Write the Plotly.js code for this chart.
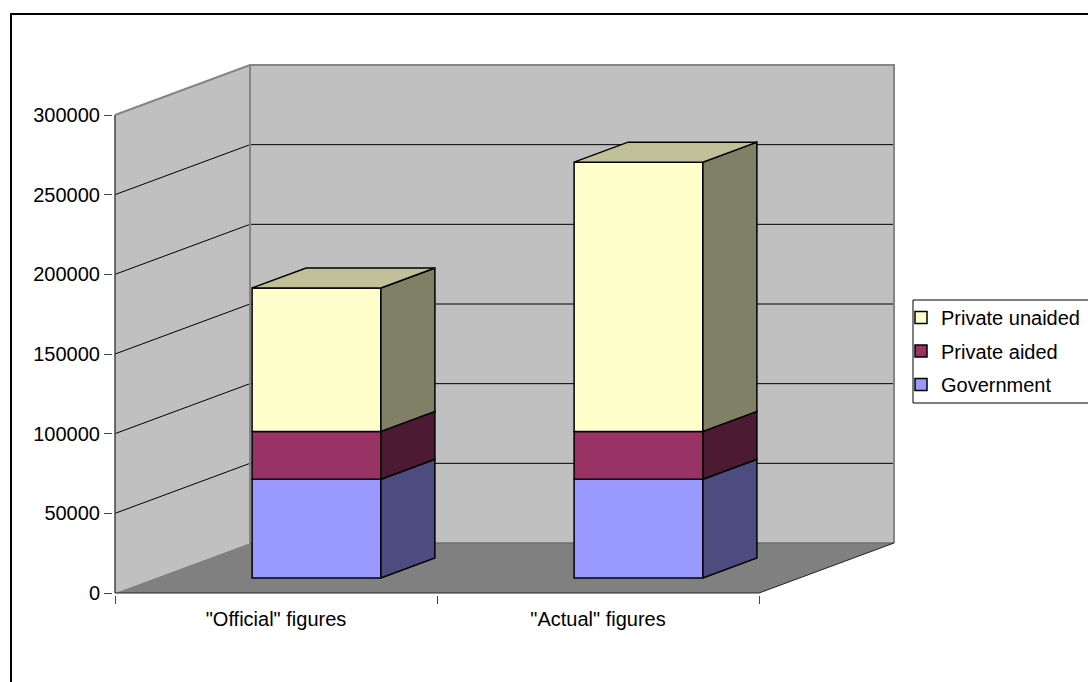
<!DOCTYPE html>
<html>
<head>
<meta charset="utf-8">
<script src="https://cdn.plot.ly/plotly-3.0.1.min.js"></script>
<style>
  html, body { margin: 0; padding: 0; background: #ffffff; }
  #chart { width: 1088px; height: 682px; }
</style>
</head>
<body>
<div id="chart"></div>
<script>
// ---- data ----
const categories = ['"Official" figures', '"Actual" figures'];
const seriesNames = ['Government', 'Private aided', 'Private unaided'];
const government = [62000, 62000];
const privateAided = [30000, 30000];
const privateUnaided = [90000, 169000];
const valueTicks = [0, 50000, 100000, 150000, 200000, 250000, 300000];

// ---- styles ----
const frontColors = ['#9999FF', '#993366', '#FFFFCC'];
const sideColors = ['#4C4C80', '#4D1A33', '#808066'];
const topColor = '#C0C099';
const wallColor = '#C0C0C0';
const floorColor = '#808080';
const edgeGray = '#858585';
const FONT = 'Liberation Sans, Arial, sans-serif';

// ---- oblique projection geometry (pixels) ----
const W = 1088, H = 682;
const ORIGIN = { x: 115, y: 593 };   // front plane: category edge 0, value 0
const CAT_PX = 322;                  // width of one category slot
const VAL_MAX = valueTicks[valueTicks.length - 1];
const VAL_PX = 478;                  // height from 0 to VAL_MAX
const DEPTH_PX = { x: 135, y: 50 };  // shift from front plane to back wall
const PAD = 2;

const kx = CAT_PX;
const ky = VAL_PX / VAL_MAX;
const DX = DEPTH_PX.x / kx;
const DY = DEPTH_PX.y / ky;
const nCat = categories.length;
const xMax = nCat + DX;
const yMax = VAL_MAX + DY;

const plotLeft = ORIGIN.x - PAD;
const plotRight = ORIGIN.x + xMax * kx + PAD;
const plotTop = ORIGIN.y - yMax * ky - PAD;
const plotBottom = ORIGIN.y + PAD;

const paperX = px => (px - plotLeft) / (plotRight - plotLeft);
const paperY = py => (plotBottom - py) / (plotBottom - plotTop);

// a point at category position x, value v and depth d (0 = front, 1 = back wall)
const P = (x, v, d) => [x + d * DX, v + d * DY];

// bar solids
const FRONT_D = 0.3, BACK_D = 0.7, BAR_W = 0.4;

const series = [government, privateAided, privateUnaided];
const traces = [];
const cumBelow = series.map((s, k) =>
  categories.map((_, i) => series.slice(0, k).reduce((a, t) => a + t[i], 0)));

// front faces as bars; the legend lists the top of the stack first
series.forEach((vals, k) => {
  traces.push({
    type: 'bar',
    name: seriesNames[k],
    legendgroup: 'g' + k,
    legendrank: series.length - k,
    x: categories.map((_, i) => P(i + 0.5, 0, FRONT_D)[0]),
    y: vals,
    base: cumBelow[k].map(b => P(0, b, FRONT_D)[1]),
    width: BAR_W,
    marker: { color: frontColors[k], line: { color: '#000000', width: 1.5 } },
    hoverinfo: 'name+y'
  });
});

function polyTrace(polys, fill) {
  const xs = [], ys = [];
  polys.forEach((pts, j) => {
    if (j > 0) { xs.push(null); ys.push(null); }
    pts.concat([pts[0]]).forEach(p => { xs.push(p[0]); ys.push(p[1]); });
  });
  return {
    type: 'scatter', mode: 'lines', x: xs, y: ys,
    fill: 'toself', fillcolor: fill,
    line: { color: '#000000', width: 1.5 },
    showlegend: false, hoverinfo: 'skip'
  };
}

// right side faces
series.forEach((vals, k) => {
  const polys = categories.map((_, i) => {
    const xr = i + 0.5 + BAR_W / 2;
    const lo = cumBelow[k][i], hi = lo + vals[i];
    return [P(xr, lo, FRONT_D), P(xr, hi, FRONT_D), P(xr, hi, BACK_D), P(xr, lo, BACK_D)];
  });
  traces.push(polyTrace(polys, sideColors[k]));
});

// top faces of the stacks
const lastK = series.length - 1;
traces.push(polyTrace(categories.map((_, i) => {
  const xl = i + 0.5 - BAR_W / 2, xr = i + 0.5 + BAR_W / 2;
  const tot = cumBelow[lastK][i] + series[lastK][i];
  return [P(xl, tot, FRONT_D), P(xr, tot, FRONT_D), P(xr, tot, BACK_D), P(xl, tot, BACK_D)];
}), topColor));

// ---- walls, floor and gridlines ----
const path = pts => 'M' + pts.map(p => p[0] + ',' + p[1]).join('L') + 'Z';
const openPath = pts => 'M' + pts.map(p => p[0] + ',' + p[1]).join('L');
const shapes = [];

shapes.push({ type: 'path', layer: 'below', xref: 'x', yref: 'y',
  path: path([P(0, 0, 0), P(0, VAL_MAX, 0), P(0, VAL_MAX, 1), P(0, 0, 1)]),
  fillcolor: wallColor, line: { width: 0 } });
shapes.push({ type: 'path', layer: 'below', xref: 'x', yref: 'y',
  path: path([P(0, 0, 1), P(0, VAL_MAX, 1), P(nCat, VAL_MAX, 1), P(nCat, 0, 1)]),
  fillcolor: wallColor, line: { width: 0 } });
shapes.push({ type: 'path', layer: 'below', xref: 'x', yref: 'y',
  path: path([P(0, 0, 0), P(nCat, 0, 0), P(nCat, 0, 1), P(0, 0, 1)]),
  fillcolor: floorColor, line: { width: 0 } });

valueTicks.slice(1, -1).forEach(v => {
  shapes.push({ type: 'path', layer: 'below', xref: 'x', yref: 'y',
    path: openPath([P(0, v, 0), P(0, v, 1), P(nCat, v, 1)]),
    line: { color: '#000000', width: 1 } });
});

// wall outlines
shapes.push({ type: 'path', layer: 'below', xref: 'x', yref: 'y',
  path: openPath([P(0, VAL_MAX, 0), P(0, VAL_MAX, 1), P(nCat, VAL_MAX, 1), P(nCat, 0, 1)]),
  line: { color: edgeGray, width: 2 } });
shapes.push({ type: 'path', layer: 'below', xref: 'x', yref: 'y',
  path: openPath([P(0, 0, 1), P(0, VAL_MAX, 1)]),
  line: { color: edgeGray, width: 2 } });
shapes.push({ type: 'path', layer: 'below', xref: 'x', yref: 'y',
  path: openPath([P(0, 0, 1), P(nCat, 0, 1)]),
  line: { color: '#6e6e6e', width: 1.5 } });
// floor front and right edges, value axis line
shapes.push({ type: 'path', layer: 'below', xref: 'x', yref: 'y',
  path: openPath([P(0, 0, 0), P(nCat, 0, 0), P(nCat, 0, 1)]),
  line: { color: '#222222', width: 1 } });
shapes.push({ type: 'path', layer: 'below', xref: 'x', yref: 'y',
  path: openPath([P(0, 0, 0), P(0, VAL_MAX, 0)]),
  line: { color: '#444444', width: 1.5 } });

// chart frame and legend box
shapes.push({ type: 'rect', xref: 'paper', yref: 'paper', layer: 'above',
  x0: paperX(11), x1: paperX(W + 20), y0: paperY(H + 20), y1: paperY(14),
  line: { color: '#000000', width: 2 } });
shapes.push({ type: 'rect', xref: 'paper', yref: 'paper', layer: 'above',
  x0: paperX(913), x1: paperX(W + 20), y0: paperY(403), y1: paperY(300),
  line: { color: '#000000', width: 1 } });

const layout = {
  width: W, height: H,
  margin: { l: plotLeft, r: W - plotRight, t: plotTop, b: H - plotBottom, autoexpand: false },
  paper_bgcolor: '#ffffff',
  plot_bgcolor: 'rgba(0,0,0,0)',
  barmode: 'overlay',
  font: { family: FONT, size: 20, color: '#000000' },
  showlegend: true,
  legend: {
    x: paperX(901), y: paperY(298), xanchor: 'left', yanchor: 'top',
    bgcolor: 'rgba(0,0,0,0)', borderwidth: 0, traceorder: 'grouped',
    tracegroupgap: 4.5,
    font: { family: FONT, size: 20, color: '#000000' }
  },
  xaxis: {
    range: [-PAD / kx, xMax + PAD / kx],
    tickmode: 'array',
    tickvals: categories.map((_, i) => i + 0.5),
    ticktext: categories,
    ticks: '',
    ticklabelstandoff: 10,
    minor: { tickmode: 'array', tickvals: categories.map((_, i) => i).concat([nCat]),
             ticks: 'outside', ticklen: 8, tickcolor: '#444444', tickwidth: 1 },
    showgrid: false, zeroline: false, showline: false,
    tickfont: { family: FONT, size: 20, color: '#000000' },
    fixedrange: true
  },
  yaxis: {
    range: [-PAD / ky, yMax + PAD / ky],
    tickmode: 'array',
    tickvals: valueTicks,
    ticktext: valueTicks.map(String),
    ticks: 'outside', ticklen: 8, tickcolor: '#444444', tickwidth: 1,
    showgrid: false, zeroline: false, showline: false,
    tickfont: { family: FONT, size: 20, color: '#000000' },
    fixedrange: true
  },
  shapes: shapes
};

Plotly.newPlot('chart', traces, layout, { displayModeBar: false, staticPlot: true });
</script>
</body>
</html>
